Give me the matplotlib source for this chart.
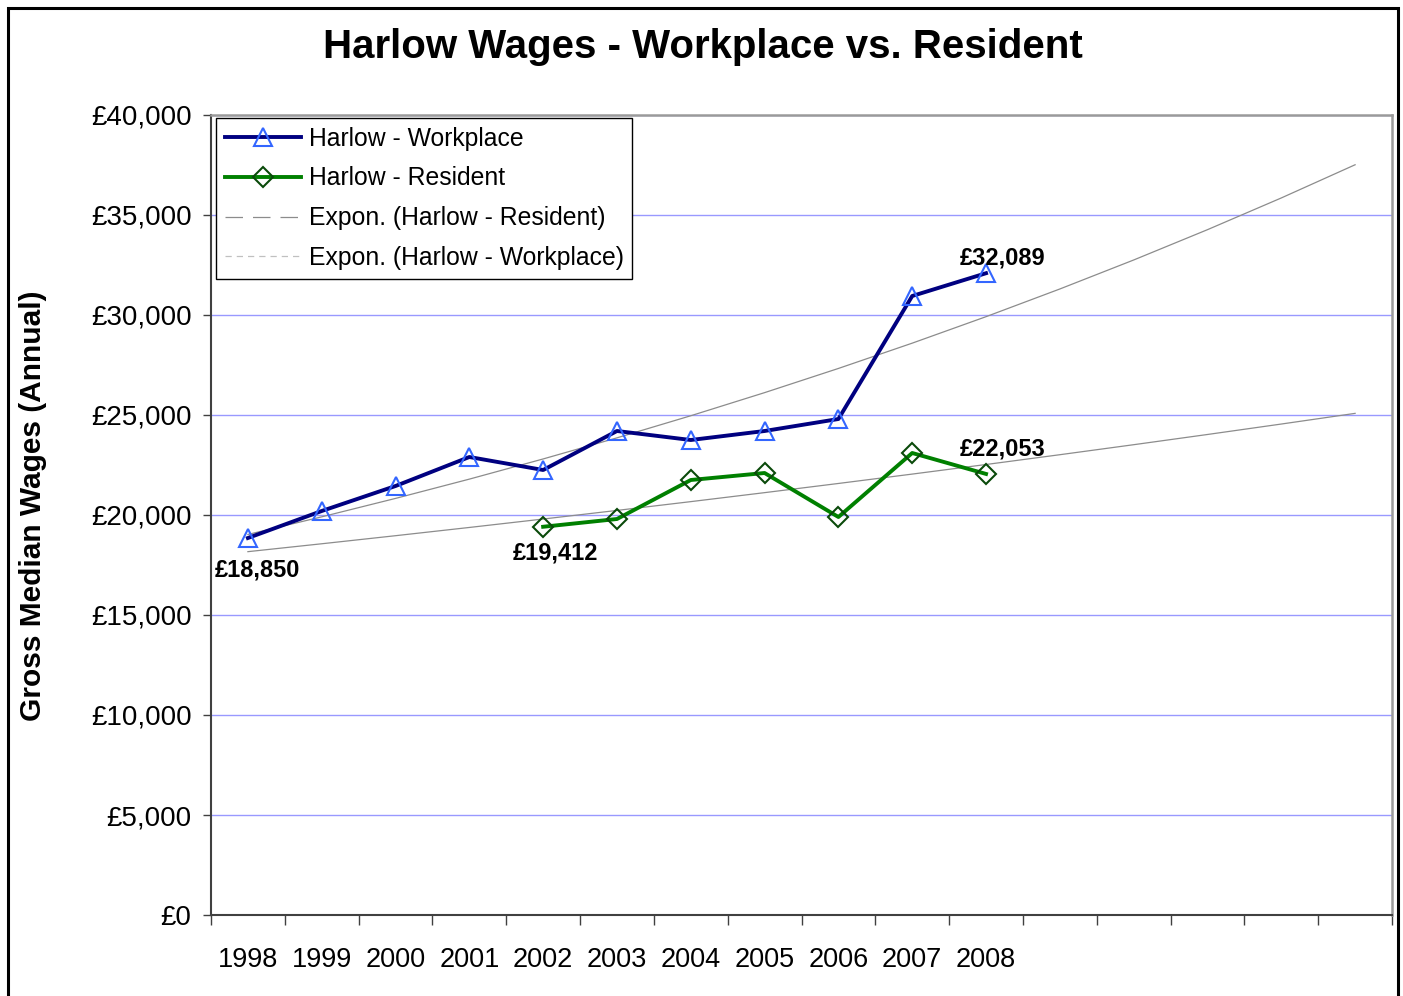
import numpy as np
import matplotlib
matplotlib.use("Agg")
import matplotlib.pyplot as plt
from matplotlib.lines import Line2D
from matplotlib.patches import Rectangle
from matplotlib.ticker import FuncFormatter

plt.rcParams['font.family'] = ['Liberation Sans', 'DejaVu Sans']

# Category axis runs 1998-2013; data exists up to 2008, trends are projected further
years = list(range(1998, 2014))
labelled_years = [str(y) for y in range(1998, 2009)]

workplace = [18850, 20200, 21450, 22900, 22250, 24200, 23750, 24200, 24800, 30950, 32089]
resident_years = [2002, 2003, 2004, 2005, 2006, 2007, 2008]
resident = [19412, 19800, 21750, 22100, 19900, 23100, 22053]

yticks = list(range(0, 40001, 5000))

W, H = 1403, 996
fig = plt.figure(figsize=(W / 100, H / 100), dpi=100)
fig.patch.set_facecolor('white')

ax_l, ax_r, ax_t, ax_b = 211, 1392, 115, 915
ax = fig.add_axes([ax_l / W, 1 - ax_b / H, (ax_r - ax_l) / W, (ax_b - ax_t) / H])

xs_all = np.arange(len(years))
xw = np.arange(len(workplace))
xr = np.array([years.index(y) for y in resident_years])

# Exponential trend lines (least squares fit on log values)
def expon_trend(x, y, x_eval):
    b, a = np.polyfit(x, np.log(y), 1)
    return np.exp(a + b * x_eval)

trend_w = expon_trend(xw, np.array(workplace, float), xs_all.astype(float))
trend_r = expon_trend(xr, np.array(resident, float), xs_all.astype(float))

ax.plot(xs_all, trend_w, color='#8c8c8c', lw=0.9, zorder=2)
ax.plot(xs_all, trend_r, color='#8c8c8c', lw=0.9, zorder=2)

navy = '#000080'
green = '#008000'
tri_kw = dict(marker='^', markersize=12.5, markerfacecolor='none',
              markeredgecolor='#3366ff', markeredgewidth=1.5)
dia_kw = dict(marker='D', markersize=10, markerfacecolor='none',
              markeredgecolor='#0a4a0a', markeredgewidth=1.5)
ax.plot(xw, workplace, color=navy, lw=2.8, zorder=3, **tri_kw)
ax.plot(xr, resident, color=green, lw=2.8, zorder=3, **dia_kw)

# Value labels on first and last points
lab_kw = dict(fontsize=17, fontweight='bold', ha='center', va='center',
              textcoords='offset points', zorder=5)
ax.annotate(f"£{workplace[0]:,}", (xw[0], workplace[0]), xytext=(7, -23), **lab_kw)
ax.annotate(f"£{workplace[-1]:,}", (xw[-1], workplace[-1]), xytext=(12, 11), **lab_kw)
ax.annotate(f"£{resident[0]:,}", (xr[0], resident[0]), xytext=(9, -19), **lab_kw)
ax.annotate(f"£{resident[-1]:,}", (xr[-1], resident[-1]), xytext=(12, 18), **lab_kw)

# Axes limits, grid and ticks
ax.set_xlim(-0.5, len(years) - 0.5)
ax.set_ylim(0, 40000)
ax.set_yticks(yticks)
ax.yaxis.set_major_formatter(FuncFormatter(lambda v, p: f"£{int(v):,}"))
ax.yaxis.grid(True, color='#9999ff', lw=1.0)
ax.set_axisbelow(True)
ax.tick_params(axis='y', direction='out', length=6, width=1.0, color='#404040',
               labelsize=20, pad=8)

ax.set_xticks(np.arange(-0.5, len(years)), minor=False)
ax.set_xticklabels([])
ax.set_xticks(np.arange(len(labelled_years)), minor=True)
ax.set_xticklabels(labelled_years, minor=True)
ax.tick_params(axis='x', which='major', direction='out', length=7, width=1.0, color='#404040')
ax.tick_params(axis='x', which='minor', length=0, labelsize=19.5, pad=23)

for side in ('left', 'bottom'):
    ax.spines[side].set_color('#404040')
    ax.spines[side].set_linewidth(1.5)
for side in ('top', 'right'):
    ax.spines[side].set_color('#9a9a9a')
    ax.spines[side].set_linewidth(1.8)

fig.text(33 / W, 1 - 506 / H, 'Gross Median Wages (Annual)', rotation=90,
         ha='center', va='center', fontsize=21.5, fontweight='bold')

fig.text(703 / W, 1 - 47 / H, 'Harlow Wages - Workplace vs. Resident',
         ha='center', va='center', fontsize=29, fontweight='bold')

# Legend
handles = [
    Line2D([], [], color=navy, lw=2.8, **tri_kw),
    Line2D([], [], color=green, lw=2.8, **dia_kw),
    Line2D([], [], color='#8c8c8c', lw=0.9, dashes=(14, 8)),
    Line2D([], [], color='#c0c0c0', lw=0.9, dashes=(5, 4)),
]
labels = ['Harlow - Workplace', 'Harlow - Resident',
          'Expon. (Harlow - Resident)', 'Expon. (Harlow - Workplace)']
leg = fig.legend(handles, labels, loc='upper left',
                 bbox_to_anchor=(216 / W, 1 - 118 / H), bbox_transform=fig.transFigure,
                 fontsize=17.8, frameon=True, fancybox=False, shadow=False,
                 borderaxespad=0, borderpad=0.35, handlelength=3.1, handletextpad=0.3,
                 labelspacing=0.64, framealpha=1)
leg.get_frame().set_edgecolor('black')
leg.get_frame().set_linewidth(1.0)

# Outer chart border
fig.patches.append(Rectangle((7.5 / W, -0.02), (1398 - 7.5) / W, 1 - 8 / H + 0.02,
                             transform=fig.transFigure, fill=False,
                             edgecolor='black', lw=2.2, clip_on=False))

fig.savefig('out.png', dpi=100, facecolor='white')
